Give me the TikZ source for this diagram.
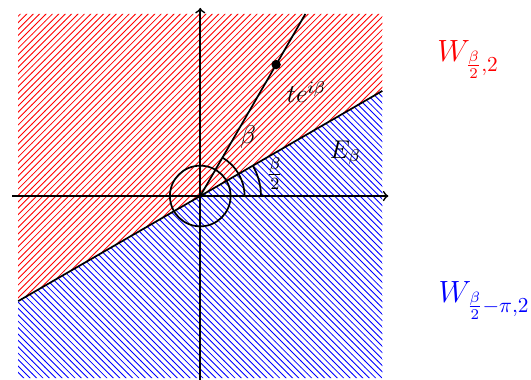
\documentclass[tikz,border=0pt]{standalone}
\usetikzlibrary{patterns}
\begin{document}
\begin{tikzpicture}[
  axis/.style={thick,->},
  curve/.style={thick},
  lbl/.style={font=\large},
  wlbl/.style={font=\Large,anchor=base west,inner sep=0pt}
]
\useasboundingbox (-3.3,-3.03) rectangle (5.45,3.23);
% hatched regions
\fill[pattern=north east lines,pattern color=red] (-3,-1.7321) -- (3,1.7321) -- (3,3) -- (-3,3) -- cycle;
\fill[pattern=north west lines,pattern color=blue] (-3,-1.7321) -- (3,1.7321) -- (3,-3) -- (-3,-3) -- cycle;
% coordinates
\coordinate (O) at (0,0);
\coordinate (xl) at (-3.1,0);
\coordinate (xr) at (3.1,0);
\coordinate (yb) at (0,-3.05);
\coordinate (yt) at (0,3.1);
\coordinate (Ll) at (-3,-1.7321);
\coordinate (Lr) at (3,1.7321);
\coordinate (R) at (1.7321,3);
% axes
\draw[axis] (xl) -- (xr);
\draw[axis] (yb) -- (yt);
% boundary line and ray
\draw[curve] (Ll) -- (Lr);
\draw[curve] (O) -- (R);
% circle and arcs
\draw[curve] (O) circle (0.5);
\draw[curve] (0.73,0) arc (0:60:0.73);
\draw[curve] (1,0) arc (0:30:1);
% point
\fill (60:2.5) circle (2.2pt) node (P) {};
% labels
\node[lbl] (tl) at (1.75,1.71) {$te^{i\beta}$};
\node[lbl] (bl) at (0.79,0.97) {$\beta$};
\node[lbl] (hl) at (1.23,0.37) {$\frac{\beta}{2}$};
\node[lbl] (el) at (2.39,0.71) {$E_\beta$};
\node[wlbl,text=red] (wr) at (3.9,2.21) {$W_{\frac{\beta}{2},2}$};
\node[wlbl,text=blue] (wb) at (3.92,-1.76) {$W_{\frac{\beta}{2}-\pi,2}$};
\end{tikzpicture}
\end{document}
